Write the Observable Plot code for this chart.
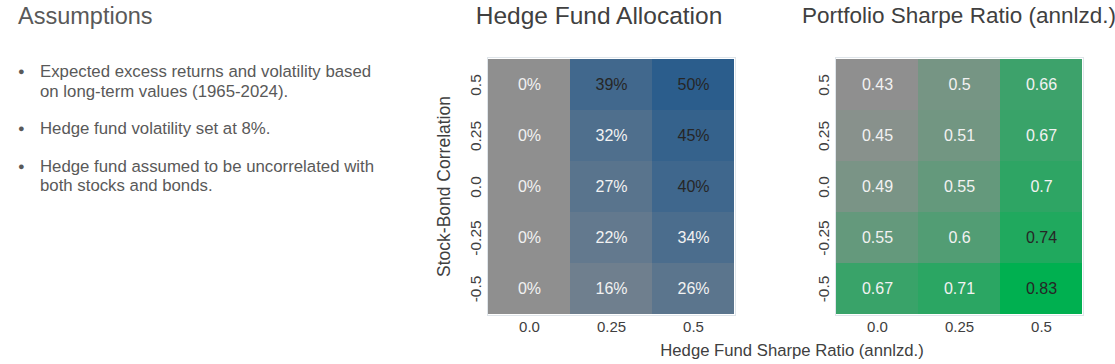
<!DOCTYPE html>
<html>
<head>
<meta charset="utf-8">
<script src="https://cdn.jsdelivr.net/npm/d3@7"></script>
<script src="https://cdn.jsdelivr.net/npm/@observablehq/plot@0.6"></script>
<style>
  html, body { margin: 0; padding: 0; background: #fff; }
  #root { position: relative; width: 1115px; height: 364px; overflow: hidden; font-family: "Liberation Sans", Arial, sans-serif; }
  .abs { position: absolute; white-space: nowrap; }
  #assume-title { left: 18px; top: 2px; font-size: 23.5px; color: #595959; line-height: 28px; }
  #bullets { left: 0; top: 62px; font-size: 16.8px; color: #595959; line-height: 19.5px; margin: 0; padding: 0; list-style: none; }
  #bullets li { position: relative; padding-left: 40px; margin-bottom: 18px; }
  #bullets li::before { content: "●"; position: absolute; left: 18px; top: 0; font-size: 11px; color: #595959; }
  .title { color: #404040; line-height: 28px; top: 2px; transform: translateX(-50%); }
  #t1 { font-size: 24.5px; }
  #t2 { font-size: 22.5px; }
  #xlabel { font-size: 16.7px; color: #404040; top: 341px; line-height: 20px; transform: translateX(-50%); }
  .plot { position: absolute; top: 0; }
</style>
</head>
<body>
<div id="root">
  <div id="assume-title" class="abs">Assumptions</div>
  <ul id="bullets" class="abs"></ul>
  <div id="t1" class="abs title">Hedge Fund Allocation</div>
  <div id="t2" class="abs title">Portfolio Sharpe Ratio (annlzd.)</div>
  <div id="xlabel" class="abs">Hedge Fund Sharpe Ratio (annlzd.)</div>
  <div id="p1" class="plot"></div>
  <div id="p2" class="plot"></div>
</div>
<script>
// ---- Data ----
const assumptions = [
  ["Expected excess returns and volatility based", "on long-term values (1965-2024)."],
  ["Hedge fund volatility set at 8%."],
  ["Hedge fund assumed to be uncorrelated with", "both stocks and bonds."]
];
const hfSharpeLabels = ["0.0", "0.25", "0.5"];
const correlationLabels = ["0.5", "0.25", "0.0", "-0.25", "-0.5"];
// rows follow correlationLabels (top to bottom), columns follow hfSharpeLabels
const allocationValues = [
  [0.00, 0.39, 0.50],
  [0.00, 0.32, 0.45],
  [0.00, 0.27, 0.40],
  [0.00, 0.22, 0.34],
  [0.00, 0.16, 0.26]
];
const portfolioSharpeValues = [
  [0.43, 0.50, 0.66],
  [0.45, 0.51, 0.67],
  [0.49, 0.55, 0.70],
  [0.55, 0.60, 0.74],
  [0.67, 0.71, 0.83]
];

// ---- Left panel ----
const ul = document.getElementById("bullets");
assumptions.forEach(lines => {
  const li = document.createElement("li");
  lines.forEach((l, i) => {
    if (i > 0) li.appendChild(document.createElement("br"));
    li.appendChild(document.createTextNode(l));
  });
  ul.appendChild(li);
});

function toTable(values) {
  const out = [];
  correlationLabels.forEach((c, i) => hfSharpeLabels.forEach((s, j) => out.push({corr: c, hf: s, v: values[i][j]})));
  return out;
}

const FONT = "'Liberation Sans', Arial, sans-serif";

function heatmap({data, colorDomain, colorRange, fmt, darkTest, width, marginLeft, marginRight, yLabel}) {
  return Plot.plot({
    width, height: 364,
    marginLeft, marginRight, marginTop: 57, marginBottom: 49,
    style: {fontFamily: FONT, color: "#404040", background: "transparent", overflow: "visible"},
    x: {domain: hfSharpeLabels, padding: 0},
    y: {domain: correlationLabels, padding: 0},
    color: {type: "linear", domain: colorDomain, range: colorRange, interpolate: "rgb"},
    marks: [
      Plot.cell(data, {x: "hf", y: "corr", fill: "v", inset: 0}),
      Plot.frame({stroke: "#dfe5ea", strokeWidth: 1}),
      Plot.text(data.filter(d => !darkTest(d.v)), {x: "hf", y: "corr", text: d => fmt(d.v), fill: "#f2f2f2", fontSize: 16}),
      Plot.text(data.filter(d => darkTest(d.v)), {x: "hf", y: "corr", text: d => fmt(d.v), fill: "#262626", fontSize: 16}),
      Plot.axisX({tickSize: 0, tickPadding: 6, label: null, fontSize: 15}),
      Plot.axisY({tickSize: 0, tickPadding: 7, tickRotate: -90, fontSize: 15.5,
                  label: yLabel, labelAnchor: "center", labelOffset: 50})
    ]
  });
}

// y-axis title slightly larger than its tick labels
function sizeAxisLabel(svg) {
  svg.querySelectorAll("g[aria-label='y-axis label']").forEach(g => {
    g.setAttribute("font-size", "17.5");
  });
}

const p1 = heatmap({
  data: toTable(allocationValues),
  colorDomain: [0, 0.5], colorRange: ["#8f8f8f", "#2b5d8c"],
  fmt: d3.format(".0%"), darkTest: v => v >= 0.39,
  width: 320, marginLeft: 57, marginRight: 15, yLabel: "Stock-Bond Correlation"
});
const p2 = heatmap({
  data: toTable(portfolioSharpeValues),
  colorDomain: [0.43, 0.83], colorRange: ["#8f8f8f", "#00b050"],
  fmt: v => String(+v.toFixed(2)), darkTest: v => v >= 0.74,
  width: 325, marginLeft: 45, marginRight: 32, yLabel: null
});
sizeAxisLabel(p1);
const d1 = document.getElementById("p1"); d1.style.left = "430px"; d1.appendChild(p1);
const d2 = document.getElementById("p2"); d2.style.left = "790px"; d2.appendChild(p2);

// Titles / shared label positions
document.getElementById("t1").style.left = "599px";
document.getElementById("t2").style.left = (790 + 45 + (325 - 45 - 32) / 2) + "px";
document.getElementById("xlabel").style.left = "792px";
</script>
</body>
</html>
